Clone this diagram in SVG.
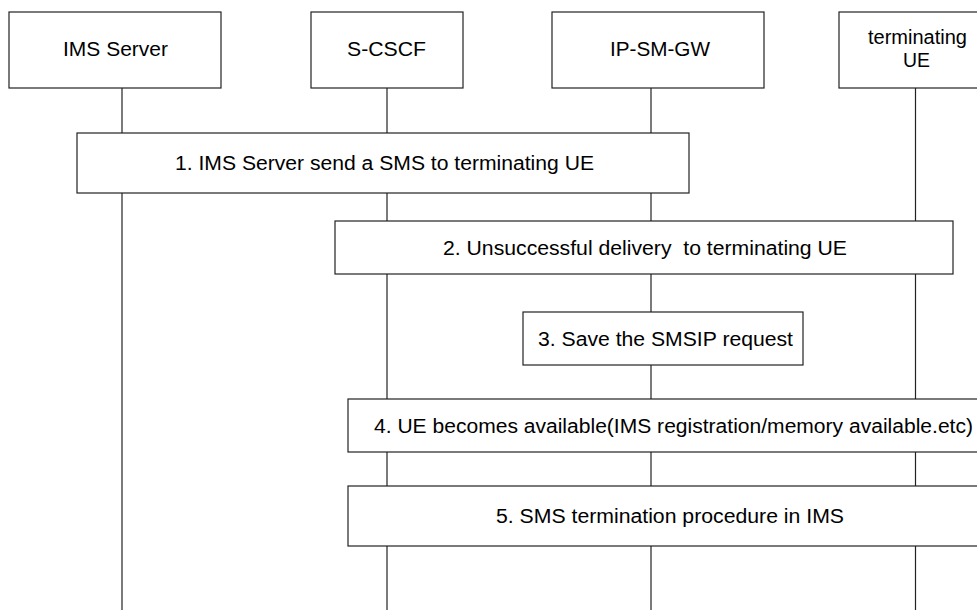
<svg xmlns="http://www.w3.org/2000/svg" width="977" height="610" viewBox="0 0 977 610">
  <style>
    .box { fill: #ffffff; stroke: #222222; stroke-width: 1.2; }
    .life { stroke: #222222; stroke-width: 1.2; fill: none; }
    .lbl { font-family: "Liberation Sans", Arial, sans-serif; font-size: 19.5px; fill: #000000; text-anchor: middle; }
  </style>
  <rect width="977" height="610" fill="#ffffff"/>

  <!-- lifelines -->
  <g id="connectors">
    <line class="life" x1="122" y1="88" x2="122" y2="610"/>
    <line class="life" x1="387" y1="88" x2="387" y2="610"/>
    <line class="life" x1="651" y1="88" x2="651" y2="610"/>
    <line class="life" x1="915.5" y1="88" x2="915.5" y2="610"/>
  </g>

  <!-- participants -->
  <g id="ims-server">
    <rect class="box" x="9" y="12" width="212" height="76"/>
    <text class="lbl" x="115.5" y="56" textLength="105" lengthAdjust="spacingAndGlyphs">IMS Server</text>
  </g>
  <g id="s-cscf">
    <rect class="box" x="311" y="12" width="152" height="76"/>
    <text class="lbl" x="386.5" y="56" textLength="79" lengthAdjust="spacingAndGlyphs">S-CSCF</text>
  </g>
  <g id="ip-sm-gw">
    <rect class="box" x="552" y="12" width="212" height="76"/>
    <text class="lbl" x="660" y="56" textLength="100" lengthAdjust="spacingAndGlyphs">IP-SM-GW</text>
  </g>
  <g id="terminating-ue">
    <rect class="box" x="839" y="12" width="158" height="76"/>
    <text class="lbl" x="917.5" y="43.5" textLength="99" lengthAdjust="spacingAndGlyphs">terminating</text>
    <text class="lbl" x="916.5" y="67" textLength="27" lengthAdjust="spacingAndGlyphs">UE</text>
  </g>

  <!-- steps -->
  <g id="step1">
    <rect class="box" x="77" y="133" width="612" height="60"/>
    <text class="lbl" x="384.5" y="170" textLength="419" lengthAdjust="spacingAndGlyphs">1. IMS Server send a SMS to terminating UE</text>
  </g>
  <g id="step2">
    <rect class="box" x="335" y="221" width="618" height="53"/>
    <text class="lbl" x="645" y="254.5" textLength="404" lengthAdjust="spacingAndGlyphs" xml:space="preserve">2. Unsuccessful delivery  to terminating UE</text>
  </g>
  <g id="step3">
    <rect class="box" x="523" y="312" width="280" height="53"/>
    <text class="lbl" x="665.5" y="346" textLength="255" lengthAdjust="spacingAndGlyphs">3. Save the SMSIP request</text>
  </g>
  <g id="step4">
    <rect class="box" x="348" y="399" width="645" height="53"/>
    <text class="lbl" x="673.5" y="432.5" textLength="599" lengthAdjust="spacingAndGlyphs">4. UE becomes available(IMS registration/memory available.etc)</text>
  </g>
  <g id="step5">
    <rect class="box" x="348" y="486" width="645" height="60"/>
    <text class="lbl" x="670" y="523" textLength="348" lengthAdjust="spacingAndGlyphs">5. SMS termination procedure in IMS</text>
  </g>
</svg>
